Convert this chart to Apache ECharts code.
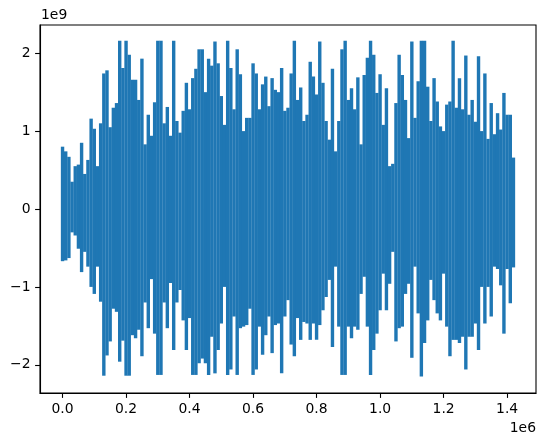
<!DOCTYPE html>
<html><head><meta charset="utf-8">
<script src="https://cdn.jsdelivr.net/npm/echarts@6/dist/echarts.min.js"></script>
<style>html,body{margin:0;padding:0;background:#fff}#c{width:546px;height:446px}</style>
</head><body><div id="c"></div>
<script>
// Time in units of 1e6 samples, amplitude in units of 1e9.
const binWidth = 0.01;
const upperPeaks = [
0.80,0.74,0.67,0.35,0.55,0.57,0.85,0.45,0.63,1.16,
1.03,0.55,1.10,1.74,1.78,1.05,1.30,1.36,2.16,1.81,
2.16,1.98,1.66,1.66,1.40,1.93,0.83,1.21,0.94,1.37,
2.16,2.16,1.10,1.31,0.94,2.16,1.13,0.98,1.26,1.62,
1.28,1.68,1.80,2.05,2.05,1.50,1.93,1.84,2.15,1.87,
1.45,1.08,2.16,1.81,1.28,2.05,1.73,1.00,1.17,1.17,
1.87,1.74,1.28,1.60,1.70,1.32,1.68,1.53,1.50,1.81,
1.26,1.30,1.74,2.16,1.40,1.56,1.13,1.21,1.89,1.70,
1.47,2.15,1.62,1.13,0.89,1.80,0.74,1.13,2.05,2.16,
1.40,1.55,1.28,1.69,0.83,1.72,1.94,2.16,1.98,1.49,
1.73,1.08,1.55,0.55,0.58,1.36,1.98,1.72,1.40,0.91,
2.15,1.17,1.64,2.16,2.16,1.57,1.13,1.68,1.38,1.06,
1.00,1.34,1.38,2.16,1.30,1.68,1.28,1.97,1.21,1.40,
1.12,1.96,1.00,1.74,0.90,1.36,0.96,1.23,1.02,1.49,
1.21,1.21,0.66
];
const lowerPeaks = [
-0.67,-0.66,-0.63,-0.30,-0.34,-0.51,-0.81,-0.55,-0.74,-1.00,
-1.09,-0.74,-1.19,-2.14,-1.88,-1.70,-1.28,-1.32,-1.96,-1.69,
-2.14,-2.14,-1.62,-1.66,-1.55,-1.89,-1.20,-1.53,-0.90,-1.60,
-2.13,-2.13,-1.20,-1.53,-0.95,-1.81,-1.20,-1.04,-1.43,-1.81,
-1.40,-2.13,-2.13,-1.98,-1.92,-1.98,-2.13,-1.64,-2.11,-1.81,
-1.47,-1.00,-2.13,-2.06,-1.38,-2.13,-1.53,-1.51,-1.49,-1.28,
-2.13,-2.06,-1.51,-1.87,-1.62,-1.38,-1.85,-1.49,-1.47,-2.11,
-1.38,-1.17,-1.74,-1.89,-1.40,-1.68,-1.45,-1.47,-1.68,-1.47,
-1.68,-1.49,-1.30,-1.13,-0.91,-1.77,-0.74,-1.51,-2.13,-2.13,
-1.51,-1.66,-1.51,-1.55,-1.09,-0.87,-1.51,-2.13,-1.81,-1.60,
-1.30,-0.83,-1.30,-0.96,-0.55,-1.70,-1.53,-1.51,-1.09,-0.96,
-1.91,-0.74,-1.34,-2.15,-1.72,-1.43,-0.91,-1.17,-1.34,-1.43,
-0.83,-1.51,-1.89,-1.68,-1.68,-1.72,-1.64,-2.06,-1.64,-1.64,
-1.47,-1.81,-1.00,-1.47,-1.00,-1.38,-0.74,-0.77,-0.98,-1.60,
-0.77,-1.21,-0.75
];
const xTicks = [0, 0.2, 0.4, 0.6, 0.8, 1.0, 1.2, 1.4];
const yTicks = [-2, -1, 0, 1, 2];
const xOffsetText = '1e6';
const yOffsetText = '1e9';

const upperData = upperPeaks.map((v, i) => [i * binWidth, v]);
const lowerData = lowerPeaks.map((v, i) => [i * binWidth, v]);

const FONT = '"DejaVu Sans", sans-serif';
const BLUE = '#1f77b4';
const axisCommon = {
  axisLine: { show: true, onZero: false, lineStyle: { color: '#000', width: 1.1 } },
  splitLine: { show: false }
};
const envSeries = (data) => ({
  type: 'bar',
  data: data,
  barWidth: 3.4,
  barGap: '-100%',
  itemStyle: { color: BLUE },
  emphasis: { disabled: true }
});
const chart = echarts.init(document.getElementById('c'));
chart.setOption({
  animation: false,
  backgroundColor: '#fff',
  grid: { left: 40, top: 25, width: 496, height: 368, show: true, borderColor: '#000', borderWidth: 1.1 },
  xAxis: Object.assign({
    type: 'value', min: -0.071, max: 1.491,
    axisTick: { show: true, length: 4.9, customValues: xTicks, lineStyle: { color: '#000', width: 1.1 } },
    axisLabel: { customValues: xTicks, formatter: v => v.toFixed(1), fontSize: 13.9, color: '#000', fontFamily: FONT, margin: 9.5 }
  }, axisCommon),
  yAxis: Object.assign({
    type: 'value', min: -2.362, max: 2.362,
    axisTick: { show: true, length: 4.9, customValues: yTicks, lineStyle: { color: '#000', width: 1.1 } },
    axisLabel: { customValues: yTicks, formatter: v => (v < 0 ? '\u2212' + Math.abs(v) : String(v)), fontSize: 13.9, color: '#000', fontFamily: FONT, margin: 9.5 }
  }, axisCommon),
  graphic: [
    { type: 'text', left: 41, top: 8, style: { text: yOffsetText, font: '13.9px ' + FONT, fill: '#000' } },
    { type: 'text', right: 10, top: 421, style: { text: xOffsetText, font: '13.9px ' + FONT, fill: '#000' } }
  ],
  series: [envSeries(upperData), envSeries(lowerData)]
});
</script>
</body></html>
